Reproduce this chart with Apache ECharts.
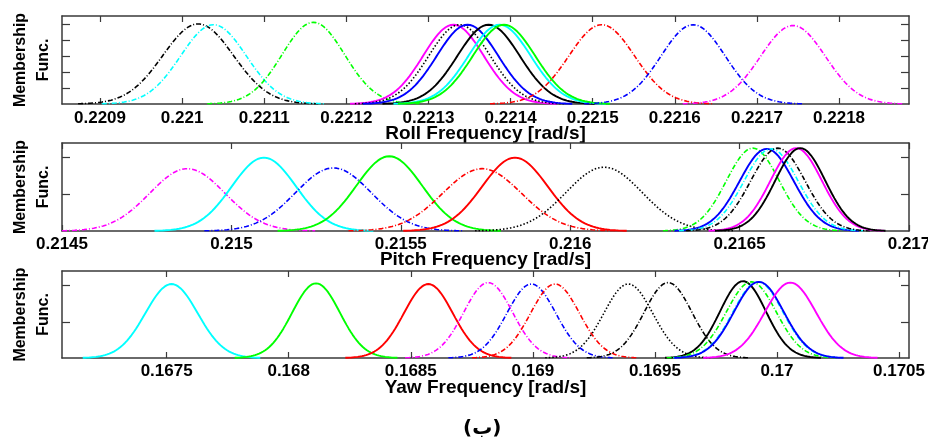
<!DOCTYPE html>
<html>
<head>
<meta charset="utf-8">
<script src="https://cdn.jsdelivr.net/npm/echarts@6/dist/echarts.min.js"></script>
<style>
html,body{margin:0;padding:0;background:#fff;}
#chart{width:928px;height:437px;}
</style>
</head>
<body>
<div id="chart"></div>
<script>
// ---------- DATA ----------
// Roll panel: Gaussian membership functions (center, spread, peak height)
const rollCenters = [0.2210195, 0.2210382, 0.2211598, 0.2213304, 0.2213378, 0.2213476, 0.2213732, 0.2213866, 0.2213920, 0.2215110, 0.2216223, 0.2217439];
const rollSigmas  = [4.3e-5, 4.0e-5, 3.8e-5, 3.7e-5, 3.75e-5, 3.75e-5, 3.8e-5, 3.8e-5, 3.8e-5, 4.0e-5, 3.9e-5, 3.95e-5];
const rollHeights = [1.01, 1.0, 1.03, 1.0, 1.0, 1.0, 1.0, 1.0, 1.0, 1.0, 1.0, 0.99];
const rollTicks   = [0.2209, 0.2210, 0.2211, 0.2212, 0.2213, 0.2214, 0.2215, 0.2216, 0.2217, 0.2218];
const rollRange   = [0.2208537, 0.2218852];

// Pitch panel
const pitchCenters = [0.214870, 0.215096, 0.215301, 0.215466, 0.215740, 0.215837, 0.216100, 0.216539, 0.216580, 0.216593, 0.216613, 0.216667, 0.216679];
const pitchSigmas  = [1.11e-4, 9.5e-5, 1.12e-4, 9.7e-5, 1.16e-4, 9.7e-5, 1.12e-4, 7.8e-5, 8.0e-5, 8.0e-5, 8.0e-5, 7.6e-5, 7.4e-5];
const pitchHeights = [0.85, 1.0, 0.86, 1.02, 0.85, 1.0, 0.87, 1.13, 1.12, 1.12, 1.13, 1.13, 1.13];
const pitchTicks   = [0.2145, 0.2150, 0.2155, 0.2160, 0.2165, 0.2170];
const pitchRange   = [0.2145, 0.2170];

// Yaw panel
const yawCenters = [0.167520, 0.168112, 0.168572, 0.168817, 0.168994, 0.169091, 0.169391, 0.169554, 0.169861, 0.169895, 0.169922, 0.169926, 0.170055];
const yawSigmas  = [1.07e-4, 9.8e-5, 1.0e-4, 1.0e-4, 1.0e-4, 1.0e-4, 1.0e-4, 9.8e-5, 9.4e-5, 1.02e-4, 1.02e-4, 1.02e-4, 1.05e-4];
const yawHeights = [1.02, 1.03, 1.02, 1.04, 1.02, 1.02, 1.02, 1.04, 1.06, 1.05, 1.05, 1.05, 1.04];
const yawTicks   = [0.1675, 0.1680, 0.1685, 0.1690, 0.1695, 0.1700, 0.1705];
const yawRange   = [0.1670713, 0.170541];

// y ticks
const rollYTicks = [0.2, 0.4, 0.6, 0.8, 1.0];
const pyYTicks = [0.5, 1.0];

// ---------- STYLES ----------
const rollColors = ['#000000','#00ffff','#00ff00','#ff00ff','#000000','#0000ff','#000000','#00ffff','#00ff00','#ff0000','#0000ff','#ff00ff'];
const rollDash   = ['dd','dd','dd','s','dot','s','s','s','s','dd','dd','dd'];
const pitchColors = ['#ff00ff','#00ffff','#0000ff','#00ff00','#ff0000','#ff0000','#000000','#00ff00','#0000ff','#00ffff','#000000','#ff00ff','#000000'];
const pitchDash   = ['dd','s','dd','s','dd','s','dot','dd','s','dd','dd','s','s'];
const yawColors = ['#00ffff','#00ff00','#ff0000','#ff00ff','#0000ff','#ff0000','#000000','#000000','#000000','#00ff00','#00ffff','#0000ff','#ff00ff'];
const yawDash   = ['s','s','s','dd','dd','dd','dot','dd','s','dd','dd','s','s'];

const dashMap = { s: 'solid', dd: [5, 2, 1, 2], dot: [1.5, 2] };
const FRAME = '#3a3a3a';
const FONT = '"Liberation Sans", Arial, sans-serif';

function gaussSeries(centers, sigmas, heights, colors, dashes, range, axisIdx) {
  return centers.map((c, i) => {
    const s = sigmas[i], h = heights[i];
    const lo = Math.max(range[0], c - 3.4 * s), hi = Math.min(range[1], c + 3.4 * s);
    const n = 160, pts = [];
    for (let k = 0; k <= n; k++) {
      const x = lo + (hi - lo) * k / n;
      pts.push([x, h * Math.exp(-0.5 * Math.pow((x - c) / s, 2))]);
    }
    return {
      type: 'line', xAxisIndex: axisIdx * 2, yAxisIndex: axisIdx * 2,
      data: pts, showSymbol: false, symbol: 'none', silent: true, clip: true,
      lineStyle: { color: colors[i], width: dashes[i] === 's' ? 1.9 : 1.6, type: dashMap[dashes[i]] },
      z: 3
    };
  });
}

const fmt = v => String(parseFloat(v.toFixed(6)));

const grids = [
  { left: 62, right: 19, top: 16, height: 88, outerBoundsMode: 'none', containLabel: false },
  { left: 62, right: 19, top: 143, height: 88, outerBoundsMode: 'none', containLabel: false },
  { left: 62, right: 19, top: 271, height: 87, outerBoundsMode: 'none', containLabel: false }
];
const panels = [
  { ticks: rollTicks, range: rollRange, name: 'Roll Frequency [rad/s]', ymax: 1.11, yt: rollYTicks, gap: 20, margin: 6 },
  { ticks: pitchTicks, range: pitchRange, name: 'Pitch Frequency [rad/s]', ymax: 1.2, yt: pyYTicks, gap: 19, margin: 5 },
  { ticks: yawTicks, range: yawRange, name: 'Yaw Frequency [rad/s]', ymax: 1.2, yt: pyYTicks, gap: 20, margin: 5 }
];

const xAxis = [], yAxis = [];
panels.forEach((p, gi) => {
  xAxis.push({
    type: 'value', gridIndex: gi, min: p.range[0], max: p.range[1], position: 'bottom',
    name: p.name, nameLocation: 'middle', nameGap: p.gap, nameMoveOverlap: false,
    nameTextStyle: { fontFamily: FONT, fontWeight: 'bold', fontSize: 19, color: '#000' },
    axisLine: { show: true, onZero: false, lineStyle: { color: FRAME, width: 1.5 } },
    axisTick: { show: true, inside: true, length: 6, customValues: p.ticks, lineStyle: { color: FRAME, width: 1.2 } },
    axisLabel: { show: true, customValues: p.ticks, formatter: fmt, margin: p.margin, fontFamily: FONT, fontWeight: 'bold', fontSize: 17, color: '#000' },
    splitLine: { show: false }
  });
  xAxis.push({
    type: 'value', gridIndex: gi, min: p.range[0], max: p.range[1], position: 'top',
    axisLine: { show: true, onZero: false, lineStyle: { color: FRAME, width: 1.5 } },
    axisTick: { show: true, inside: true, length: 6, customValues: p.ticks, lineStyle: { color: FRAME, width: 1.2 } },
    axisLabel: { show: false }, splitLine: { show: false }
  });
  yAxis.push({
    type: 'value', gridIndex: gi, min: 0, max: p.ymax, position: 'left',
    name: 'Membership\nFunc.', nameLocation: 'middle', nameRotate: 90, nameGap: 7, nameMoveOverlap: false,
    nameTextStyle: { fontFamily: FONT, fontWeight: 'bold', fontSize: 16, lineHeight: 23, color: '#000' },
    axisLine: { show: true, onZero: false, lineStyle: { color: FRAME, width: 1.5 } },
    axisTick: { show: true, inside: true, length: 8, customValues: p.yt, lineStyle: { color: FRAME, width: 1.2 } },
    axisLabel: { show: false }, splitLine: { show: false }
  });
  yAxis.push({
    type: 'value', gridIndex: gi, min: 0, max: p.ymax, position: 'right',
    axisLine: { show: true, onZero: false, lineStyle: { color: FRAME, width: 1.5 } },
    axisTick: { show: true, inside: true, length: 8, customValues: p.yt, lineStyle: { color: FRAME, width: 1.2 } },
    axisLabel: { show: false }, splitLine: { show: false }
  });
});

const series = [].concat(
  gaussSeries(rollCenters, rollSigmas, rollHeights, rollColors, rollDash, rollRange, 0),
  gaussSeries(pitchCenters, pitchSigmas, pitchHeights, pitchColors, pitchDash, pitchRange, 1),
  gaussSeries(yawCenters, yawSigmas, yawHeights, yawColors, yawDash, yawRange, 2)
);

const chart = echarts.init(document.getElementById('chart'), null, { renderer: 'canvas' });
chart.setOption({
  animation: false,
  backgroundColor: '#ffffff',
  grid: grids,
  xAxis: xAxis,
  yAxis: yAxis,
  series: series,
  graphic: [{
    type: 'text', left: 463, top: 419,
    style: { text: '(ب)', fontFamily: '"DejaVu Sans", sans-serif', fontWeight: 'bold', fontSize: 20, fill: '#000' }
  }]
});
</script>
</body>
</html>
